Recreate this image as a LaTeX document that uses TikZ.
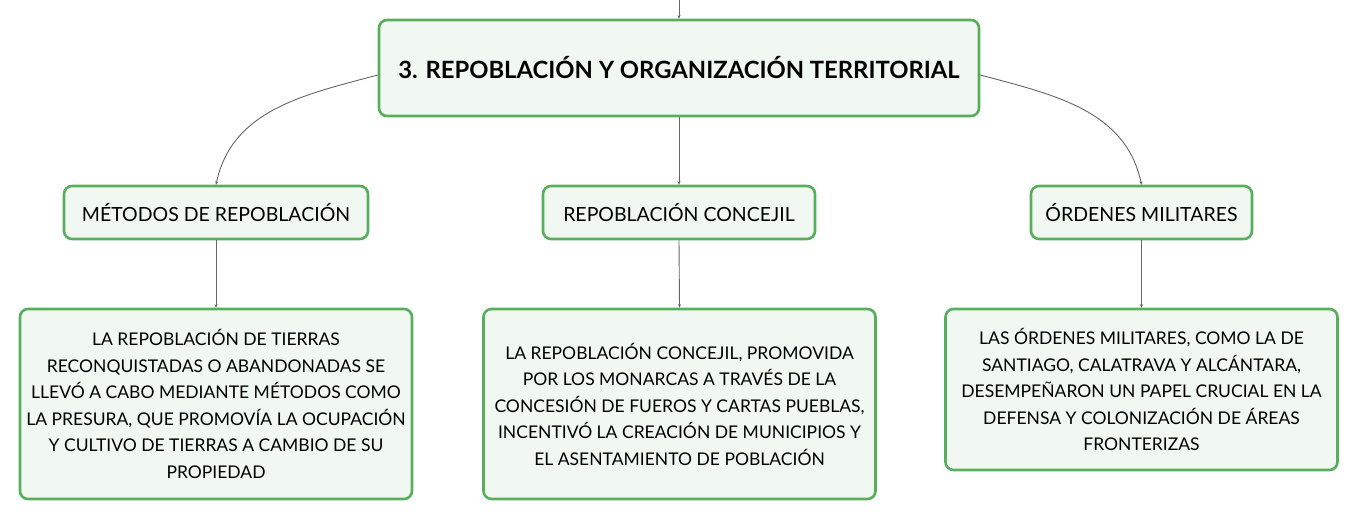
\documentclass[tikz,border=0pt]{standalone}
\usepackage{fontspec}
\setmainfont{Lato}
\usetikzlibrary{arrows.meta}
\definecolor{boxline}{HTML}{58AE5D}
\definecolor{boxfill}{HTML}{F1F8F2}
\definecolor{wire}{HTML}{666666}

\begin{document}
\begin{tikzpicture}[x=1pt,y=-1pt,
    card/.style={draw=boxline,fill=boxfill,line width=2.6pt,rounded corners=8pt,
      inner sep=0pt,align=center,text=black},
    topcard/.style={card,minimum width=600pt,minimum height=96pt,font=\fontsize{23.8}{28}\selectfont\bfseries},
    midcard/.style={card,minimum height=53pt,font=\fontsize{19.5}{23}\selectfont},
    textcard/.style={card,minimum width=392pt,font=\fontsize{17.5}{26.5}\selectfont},
    link/.style={draw=wire,line width=0.9pt,-{Stealth[length=3.5pt,width=3pt]}}]
  \useasboundingbox (0,0) rectangle (1359,521);
  % main topic
  \node[topcard] (main) at (679,68) {3. REPOBLACIÓN Y ORGANIZACIÓN TERRITORIAL};
  \coordinate (entry) at (679,0);
  % second row
  \node[midcard,minimum width=304pt] (metodos) at (216,212.5) {MÉTODOS DE REPOBLACIÓN};
  \node[midcard,minimum width=272pt] (concejil) at (679,212.5) {REPOBLACIÓN CONCEJIL};
  \node[midcard,minimum width=221pt] (ordenes) at (1141.5,212.5) {ÓRDENES MILITARES};
  % details
  \node[textcard,minimum height=190pt] (txtmet) at (216,404) {LA REPOBLACIÓN DE TIERRAS\\RECONQUISTADAS O ABANDONADAS SE\\LLEVÓ A CABO MEDIANTE MÉTODOS COMO\\LA PRESURA, QUE PROMOVÍA LA OCUPACIÓN\\Y CULTIVO DE TIERRAS A CAMBIO DE SU\\PROPIEDAD};
  \node[textcard,minimum height=190pt] (txtcon) at (679.5,404) {LA REPOBLACIÓN CONCEJIL, PROMOVIDA\\POR LOS MONARCAS A TRAVÉS DE LA\\CONCESIÓN DE FUEROS Y CARTAS PUEBLAS,\\INCENTIVÓ LA CREACIÓN DE MUNICIPIOS Y\\EL ASENTAMIENTO DE POBLACIÓN};
  \node[textcard,minimum height=161pt] (txtord) at (1141.5,389.5) {LAS ÓRDENES MILITARES, COMO LA DE\\SANTIAGO, CALATRAVA Y ALCÁNTARA,\\DESEMPEÑARON UN PAPEL CRUCIAL EN LA\\DEFENSA Y COLONIZACIÓN DE ÁREAS\\FRONTERIZAS};
  % connectors
  \draw[link] (entry) -- (main.north);
  \draw[link] (main.west) ++(0,7) to[out=195,in=78] (metodos.north);
  \draw[link] (main.south) -- (concejil.north);
  \draw[link] (main.east) ++(0,7) to[out=-15,in=102] (ordenes.north);
  \draw[link] (metodos.south) -- (txtmet.north);
  \draw[link] (concejil.south) -- (txtcon.north);
  \draw[link] (ordenes.south) -- (txtord.north);
\end{tikzpicture}
\end{document}
